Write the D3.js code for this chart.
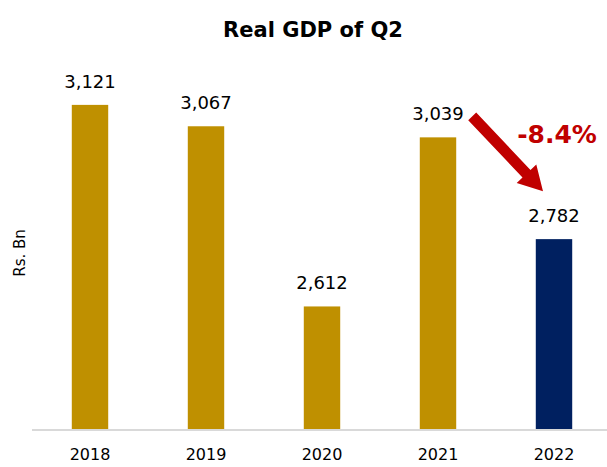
<!DOCTYPE html>
<html>
<head>
<meta charset="utf-8">
<script src="https://cdn.jsdelivr.net/npm/d3@7"></script>
<style>
  body { margin: 0; background: #fff; }
  svg text { font-family: "Century Gothic", "DejaVu Sans", sans-serif; }
</style>
</head>
<body>
<div id="chart"></div>
<script>
var years = ["2018", "2019", "2020", "2021", "2022"];
var gdp = [3121, 3067, 2612, 3039, 2782];
var changeLabel = "-8.4%";

var width = 607, height = 467;
var baseY = 430;

var svg = d3.select("#chart").append("svg")
    .attr("width", width)
    .attr("height", height);

var x = d3.scaleBand()
    .domain(years)
    .range([32, 612])
    .paddingInner(0.686)
    .paddingOuter(0.343);

var y = d3.scaleLinear()
    .domain([2300, 3200])
    .range([baseY, 73.6]);

// title
svg.append("text")
    .attr("x", 313)
    .attr("y", 37)
    .attr("text-anchor", "middle")
    .style("font-size", "21px")
    .style("font-weight", "bold")
    .style("fill", "#000")
    .text("Real GDP of Q2");

// y axis title
svg.append("text")
    .attr("transform", "translate(25,253) rotate(-90)")
    .attr("text-anchor", "middle")
    .style("font-size", "15px")
    .style("fill", "#000")
    .text("Rs. Bn");

// bars
svg.selectAll(".bar")
    .data(gdp)
    .enter().append("rect")
    .attr("class", "bar")
    .attr("x", function(d, i) { return x(years[i]); })
    .attr("y", function(d) { return y(d); })
    .attr("width", x.bandwidth())
    .attr("height", function(d) { return baseY - y(d); })
    .attr("fill", function(d, i) { return i == years.length - 1 ? "#002060" : "#BF9000"; });

// value labels
svg.selectAll(".val")
    .data(gdp)
    .enter().append("text")
    .attr("class", "val")
    .attr("x", function(d, i) { return x(years[i]) + x.bandwidth() / 2; })
    .attr("y", function(d) { return y(d) - 17; })
    .attr("text-anchor", "middle")
    .style("font-size", "18px")
    .style("fill", "#000")
    .text(function(d) { return d3.format(",")(d); });

// x axis
var xAxis = svg.append("g")
    .attr("transform", "translate(0," + baseY + ")")
    .call(d3.axisBottom(x).tickSize(0).tickPadding(19));
xAxis.select(".domain").attr("d", "M32,0H607").attr("stroke", "#D9D9D9").attr("stroke-width", 2);
xAxis.selectAll("text")
    .style("font-family", "'Century Gothic', 'DejaVu Sans', sans-serif")
    .style("font-size", "16px")
    .style("fill", "#000");

// arrow from 2021 to 2022
var x0 = x("2021") + x.bandwidth() + 16, y0 = y(gdp[3]) - 21;
var x1 = x("2022") + x.bandwidth() / 2 - 11, y1 = y(gdp[4]) - 48;
var dx = x1 - x0, dy = y1 - y0, len = Math.sqrt(dx * dx + dy * dy);
var ux = dx / len, uy = dy / len, px = -uy, py = ux;
var shaftW = 5.5, headW = 13.5, headL = 24;
var bx = x1 - ux * headL, by = y1 - uy * headL;
var pts = [
  [x0 + px * shaftW, y0 + py * shaftW],
  [bx + px * shaftW, by + py * shaftW],
  [bx + px * headW, by + py * headW],
  [x1, y1],
  [bx - px * headW, by - py * headW],
  [bx - px * shaftW, by - py * shaftW],
  [x0 - px * shaftW, y0 - py * shaftW]
];
svg.append("path")
    .attr("d", d3.line()(pts) + "Z")
    .attr("fill", "#C00000");

svg.append("text")
    .attr("x", 557)
    .attr("y", 143)
    .attr("text-anchor", "middle")
    .style("font-size", "25px")
    .style("font-weight", "bold")
    .style("fill", "#C00000")
    .text(changeLabel);
</script>
</body>
</html>
